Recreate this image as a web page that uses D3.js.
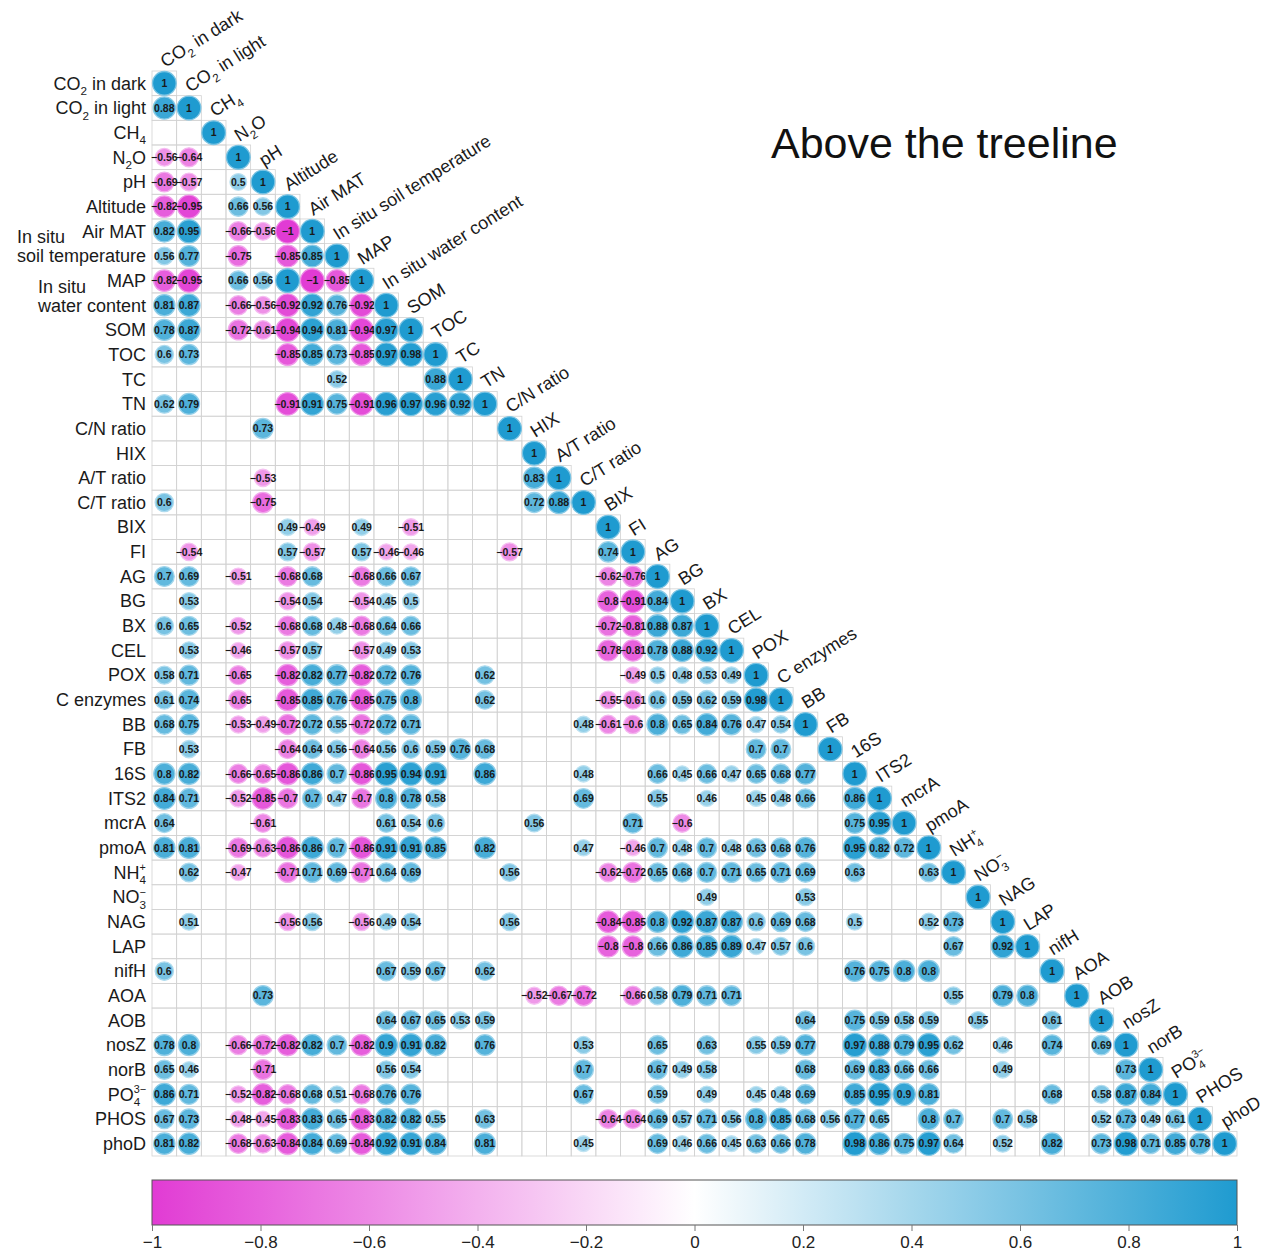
<!DOCTYPE html>
<html>
<head>
<meta charset="utf-8">
<script src="https://cdn.jsdelivr.net/npm/d3@7"></script>
<style>
  body { margin: 0; background: #fff; }
  svg { display: block; font-family: "Liberation Sans", Arial, sans-serif; }
</style>
</head>
<body>
<svg id="chart" width="1268" height="1251"></svg>
<script>
const _ = null;

const title = "Above the treeline";

// row labels (left side); "\n" = two-line label
const rowLabels = [
  "CO_{2} in dark", "CO_{2} in light", "CH_{4}", "N_{2}O", "pH", "Altitude", "Air MAT",
  "In situ\nsoil temperature", "MAP", "In situ\nwater content", "SOM", "TOC", "TC", "TN",
  "C/N ratio", "HIX", "A/T ratio", "C/T ratio", "BIX", "FI", "AG", "BG", "BX", "CEL", "POX",
  "C enzymes", "BB", "FB", "16S", "ITS2", "mcrA", "pmoA", "NH_{4}^{+}", "NO_{3}^{−}", "NAG",
  "LAP", "nifH", "AOA", "AOB", "nosZ", "norB", "PO_{4}^{3−}", "PHOS", "phoD"
];

// column labels (diagonal)
const colLabels = [
  "CO_{2} in dark", "CO_{2} in light", "CH_{4}", "N_{2}O", "pH", "Altitude", "Air MAT",
  "In situ soil temperature", "MAP", "In situ water content", "SOM", "TOC", "TC", "TN",
  "C/N ratio", "HIX", "A/T ratio", "C/T ratio", "BIX", "FI", "AG", "BG", "BX", "CEL", "POX",
  "C enzymes", "BB", "FB", "16S", "ITS2", "mcrA", "pmoA", "NH_{4}^{+}", "NO_{3}^{−}", "NAG",
  "LAP", "nifH", "AOA", "AOB", "nosZ", "norB", "PO_{4}^{3−}", "PHOS", "phoD"
];

// lower triangle, one row per variable (blank = not significant)
const corrRows = [
  [1],
  [0.88, 1],
  [_, _, 1],
  [-0.56, -0.64, _, 1],
  [-0.69, -0.57, _, 0.5, 1],
  [-0.82, -0.95, _, 0.66, 0.56, 1],
  [0.82, 0.95, _, -0.66, -0.56, -1, 1],
  [0.56, 0.77, _, -0.75, _, -0.85, 0.85, 1],
  [-0.82, -0.95, _, 0.66, 0.56, 1, -1, -0.85, 1],
  [0.81, 0.87, _, -0.66, -0.56, -0.92, 0.92, 0.76, -0.92, 1],
  [0.78, 0.87, _, -0.72, -0.61, -0.94, 0.94, 0.81, -0.94, 0.97, 1],
  [0.6, 0.73, _, _, _, -0.85, 0.85, 0.73, -0.85, 0.97, 0.98, 1],
  [_, _, _, _, _, _, _, 0.52, _, _, _, 0.88, 1],
  [0.62, 0.79, _, _, _, -0.91, 0.91, 0.75, -0.91, 0.96, 0.97, 0.96, 0.92, 1],
  [_, _, _, _, 0.73, _, _, _, _, _, _, _, _, _, 1],
  [_, _, _, _, _, _, _, _, _, _, _, _, _, _, _, 1],
  [_, _, _, _, -0.53, _, _, _, _, _, _, _, _, _, _, 0.83, 1],
  [0.6, _, _, _, -0.75, _, _, _, _, _, _, _, _, _, _, 0.72, 0.88, 1],
  [_, _, _, _, _, 0.49, -0.49, _, 0.49, _, -0.51, _, _, _, _, _, _, _, 1],
  [_, -0.54, _, _, _, 0.57, -0.57, _, 0.57, -0.46, -0.46, _, _, _, -0.57, _, _, _, 0.74, 1],
  [0.7, 0.69, _, -0.51, _, -0.68, 0.68, _, -0.68, 0.66, 0.67, _, _, _, _, _, _, _, -0.62, -0.76, 1],
  [_, 0.53, _, _, _, -0.54, 0.54, _, -0.54, 0.45, 0.5, _, _, _, _, _, _, _, -0.8, -0.91, 0.84, 1],
  [0.6, 0.65, _, -0.52, _, -0.68, 0.68, 0.48, -0.68, 0.64, 0.66, _, _, _, _, _, _, _, -0.72, -0.81, 0.88, 0.87, 1],
  [_, 0.53, _, -0.46, _, -0.57, 0.57, _, -0.57, 0.49, 0.53, _, _, _, _, _, _, _, -0.78, -0.81, 0.78, 0.88, 0.92, 1],
  [0.58, 0.71, _, -0.65, _, -0.82, 0.82, 0.77, -0.82, 0.72, 0.76, _, _, 0.62, _, _, _, _, _, -0.49, 0.5, 0.48, 0.53, 0.49, 1],
  [0.61, 0.74, _, -0.65, _, -0.85, 0.85, 0.76, -0.85, 0.75, 0.8, _, _, 0.62, _, _, _, _, -0.55, -0.61, 0.6, 0.59, 0.62, 0.59, 0.98, 1],
  [0.68, 0.75, _, -0.53, -0.49, -0.72, 0.72, 0.55, -0.72, 0.72, 0.71, _, _, _, _, _, _, 0.48, -0.61, -0.6, 0.8, 0.65, 0.84, 0.76, 0.47, 0.54, 1],
  [_, 0.53, _, _, _, -0.64, 0.64, 0.56, -0.64, 0.56, 0.6, 0.59, 0.76, 0.68, _, _, _, _, _, _, _, _, _, _, 0.7, 0.7, _, 1],
  [0.8, 0.82, _, -0.66, -0.65, -0.86, 0.86, 0.7, -0.86, 0.95, 0.94, 0.91, _, 0.86, _, _, _, 0.48, _, _, 0.66, 0.45, 0.66, 0.47, 0.65, 0.68, 0.77, _, 1],
  [0.84, 0.71, _, -0.52, -0.85, -0.7, 0.7, 0.47, -0.7, 0.8, 0.78, 0.58, _, _, _, _, _, 0.69, _, _, 0.55, _, 0.46, _, 0.45, 0.48, 0.66, _, 0.86, 1],
  [0.64, _, _, _, -0.61, _, _, _, _, 0.61, 0.54, 0.6, _, _, _, 0.56, _, _, _, 0.71, _, -0.6, _, _, _, _, _, _, 0.75, 0.95, 1],
  [0.81, 0.81, _, -0.69, -0.63, -0.86, 0.86, 0.7, -0.86, 0.91, 0.91, 0.85, _, 0.82, _, _, _, 0.47, _, -0.46, 0.7, 0.48, 0.7, 0.48, 0.63, 0.68, 0.76, _, 0.95, 0.82, 0.72, 1],
  [_, 0.62, _, -0.47, _, -0.71, 0.71, 0.69, -0.71, 0.64, 0.69, _, _, _, 0.56, _, _, _, -0.62, -0.72, 0.65, 0.68, 0.7, 0.71, 0.65, 0.71, 0.69, _, 0.63, _, _, 0.63, 1],
  [_, _, _, _, _, _, _, _, _, _, _, _, _, _, _, _, _, _, _, _, _, _, 0.49, _, _, _, 0.53, _, _, _, _, _, _, 1],
  [_, 0.51, _, _, _, -0.56, 0.56, _, -0.56, 0.49, 0.54, _, _, _, 0.56, _, _, _, -0.84, -0.85, 0.8, 0.92, 0.87, 0.87, 0.6, 0.69, 0.68, _, 0.5, _, _, 0.52, 0.73, _, 1],
  [_, _, _, _, _, _, _, _, _, _, _, _, _, _, _, _, _, _, -0.8, -0.8, 0.66, 0.86, 0.85, 0.89, 0.47, 0.57, 0.6, _, _, _, _, _, 0.67, _, 0.92, 1],
  [0.6, _, _, _, _, _, _, _, _, 0.67, 0.59, 0.67, _, 0.62, _, _, _, _, _, _, _, _, _, _, _, _, _, _, 0.76, 0.75, 0.8, 0.8, _, _, _, _, 1],
  [_, _, _, _, 0.73, _, _, _, _, _, _, _, _, _, _, -0.52, -0.67, -0.72, _, -0.66, 0.58, 0.79, 0.71, 0.71, _, _, _, _, _, _, _, _, 0.55, _, 0.79, 0.8, _, 1],
  [_, _, _, _, _, _, _, _, _, 0.64, 0.67, 0.65, 0.53, 0.59, _, _, _, _, _, _, _, _, _, _, _, _, 0.64, _, 0.75, 0.59, 0.58, 0.59, _, 0.55, _, _, 0.61, _, 1],
  [0.78, 0.8, _, -0.66, -0.72, -0.82, 0.82, 0.7, -0.82, 0.9, 0.91, 0.82, _, 0.76, _, _, _, 0.53, _, _, 0.65, _, 0.63, _, 0.55, 0.59, 0.77, _, 0.97, 0.88, 0.79, 0.95, 0.62, _, 0.46, _, 0.74, _, 0.69, 1],
  [0.65, 0.46, _, _, -0.71, _, _, _, _, 0.56, 0.54, _, _, _, _, _, _, 0.7, _, _, 0.67, 0.49, 0.58, _, _, _, 0.68, _, 0.69, 0.83, 0.66, 0.66, _, _, 0.49, _, _, _, _, 0.73, 1],
  [0.86, 0.71, _, -0.52, -0.82, -0.68, 0.68, 0.51, -0.68, 0.76, 0.76, _, _, _, _, _, _, 0.67, _, _, 0.59, _, 0.49, _, 0.45, 0.48, 0.69, _, 0.85, 0.95, 0.9, 0.81, _, _, _, _, 0.68, _, 0.58, 0.87, 0.84, 1],
  [0.67, 0.73, _, -0.48, -0.45, -0.83, 0.83, 0.65, -0.83, 0.82, 0.82, 0.55, _, 0.63, _, _, _, _, -0.64, -0.64, 0.69, 0.57, 0.71, 0.56, 0.8, 0.85, 0.68, 0.56, 0.77, 0.65, _, 0.8, 0.7, _, 0.7, 0.58, _, _, 0.52, 0.73, 0.49, 0.61, 1],
  [0.81, 0.82, _, -0.68, -0.63, -0.84, 0.84, 0.69, -0.84, 0.92, 0.91, 0.84, _, 0.81, _, _, _, 0.45, _, _, 0.69, 0.46, 0.66, 0.45, 0.63, 0.66, 0.78, _, 0.98, 0.86, 0.75, 0.97, 0.64, _, 0.52, _, 0.82, _, 0.73, 0.98, 0.71, 0.85, 0.78, 1]
];

const legendTicks = [-1, -0.8, -0.6, -0.4, -0.2, 0, 0.2, 0.4, 0.6, 0.8, 1];

// ---- layout
const n = rowLabels.length;
const svg = d3.select("#chart");
const gridLeft = 152, gridRight = 1237, gridTop = 71;
const labelSize = 18;
const xs = d3.scaleBand().domain(d3.range(n)).range([gridLeft, gridRight]);
const cell = xs.bandwidth();
const ys = d3.scaleBand().domain(d3.range(n)).range([gridTop, gridTop + cell * n]);

const color = d3.scaleLinear()
  .domain([-1, 0, 1])
  .range(["#e13bd4", "#ffffff", "#1f9bd0"]);
const radius = d3.scaleSqrt().domain([0, 1]).range([0, cell * 0.48]);

const fmt = (v) => String(v).replace("-", "\u2212");

// text with _{sub} and ^{sup} (sup stacked over sub)
function richText(sel, str, fs) {
  const parts = str.split(/(_\{[^}]*\}|\^\{[^}]*\})/).filter((s) => s.length);
  let shift = 0;
  let lastSub = null;
  parts.forEach((p) => {
    let target = 0, size = fs, txt = p, dx = 0;
    if (p.startsWith("_{")) {
      target = fs * 0.3; size = fs * 0.65; txt = p.slice(2, -1);
    } else if (p.startsWith("^{")) {
      target = -fs * 0.42; size = fs * 0.6; txt = p.slice(2, -1);
      if (lastSub) dx = -lastSub.node().getComputedTextLength();
    }
    const t = sel.append("tspan")
      .attr("font-size", size)
      .attr("dy", target - shift)
      .text(txt);
    if (dx) t.attr("dx", dx);
    shift = target;
    lastSub = p.startsWith("_{") ? t : null;
  });
}

// ---- grid (lower triangle)
const cells = [];
corrRows.forEach((row, i) => row.forEach((v, j) => cells.push({ i, j, v })));

svg.append("g")
  .selectAll("rect")
  .data(cells)
  .join("rect")
  .attr("x", (d) => xs(d.j))
  .attr("y", (d) => ys(d.i))
  .attr("width", cell)
  .attr("height", cell)
  .attr("fill", "none")
  .attr("stroke", "#d2d2d2")
  .attr("stroke-width", 0.8);

// ---- bubbles
const sig = cells.filter((d) => d.v !== null);
const bub = svg.append("g")
  .selectAll("g")
  .data(sig)
  .join("g")
  .attr("transform", (d) => `translate(${xs(d.j) + cell / 2},${ys(d.i) + cell / 2})`);

bub.append("circle")
  .attr("r", (d) => radius(Math.abs(d.v)))
  .attr("fill", (d) => color(d.v))
  .attr("stroke", (d) => d3.interpolateRgb(color(d.v), "#fff")(0.4))
  .attr("stroke-width", 1.3);

bub.append("text")
  .attr("text-anchor", "middle")
  .attr("dy", "0.36em")
  .attr("font-size", 10.5)
  .attr("font-weight", "bold")
  .attr("fill", "#1a1a1a")
  .text((d) => fmt(d.v));

// ---- row labels
const rowG = svg.append("g").attr("fill", "#1a1a1a");
rowLabels.forEach((lab, i) => {
  const lines = lab.split("\n");
  const cy = ys(i) + cell / 2 + labelSize * 0.35;
  if (lines.length === 1) {
    const t = rowG.append("text")
      .attr("x", gridLeft - 6)
      .attr("y", cy)
      .attr("text-anchor", "end")
      .attr("font-size", labelSize);
    richText(t, lab, labelSize);
  } else {
    const texts = lines.map((ln, k) => {
      const t = rowG.append("text")
        .attr("y", cy - (lines.length - 1 - k) * 19)
        .attr("font-size", labelSize);
      richText(t, ln, labelSize);
      return t;
    });
    const w = d3.max(texts, (t) => t.node().getComputedTextLength());
    texts.forEach((t) => t.attr("x", gridLeft - 6 - w));
  }
});

// ---- column labels
const colG = svg.append("g").attr("fill", "#1a1a1a");
colLabels.forEach((lab, j) => {
  const x = xs(j) + cell / 2 + 1;
  const y = ys(j) - 3;
  const t = colG.append("text")
    .attr("transform", `translate(${x},${y}) rotate(-32)`)
    .attr("font-size", labelSize);
  richText(t, lab, labelSize);
});

// ---- title
svg.append("text")
  .attr("x", 771)
  .attr("y", 158)
  .attr("font-size", 43)
  .attr("fill", "#111")
  .text(title);

// ---- colour bar
const barY = 1180, barH = 45;
const lx = d3.scaleLinear().domain([-1, 1]).range([gridLeft, gridRight]);
const grad = svg.append("defs").append("linearGradient").attr("id", "cbar");
d3.range(0, 1.0001, 0.05).forEach((t) => {
  grad.append("stop").attr("offset", t).attr("stop-color", color(-1 + 2 * t));
});
svg.append("rect")
  .attr("x", lx(-1))
  .attr("y", barY)
  .attr("width", lx(1) - lx(-1))
  .attr("height", barH)
  .attr("fill", "url(#cbar)")
  .attr("stroke", "#555")
  .attr("stroke-width", 1);

const axis = d3.axisBottom(lx)
  .tickValues(legendTicks)
  .tickSize(6)
  .tickFormat((d) => fmt(Math.abs(d) < 1e-9 ? 0 : d3.format("~g")(d)));
const axG = svg.append("g")
  .attr("transform", `translate(0,${barY + barH})`)
  .call(axis);
axG.select(".domain").remove();
axG.selectAll(".tick line").attr("stroke", "#777");
axG.selectAll(".tick text")
  .attr("font-size", 17)
  .attr("font-family", "Liberation Sans, Arial, sans-serif")
  .attr("fill", "#222")
  .attr("dy", "0.8em");
</script>
</body>
</html>
